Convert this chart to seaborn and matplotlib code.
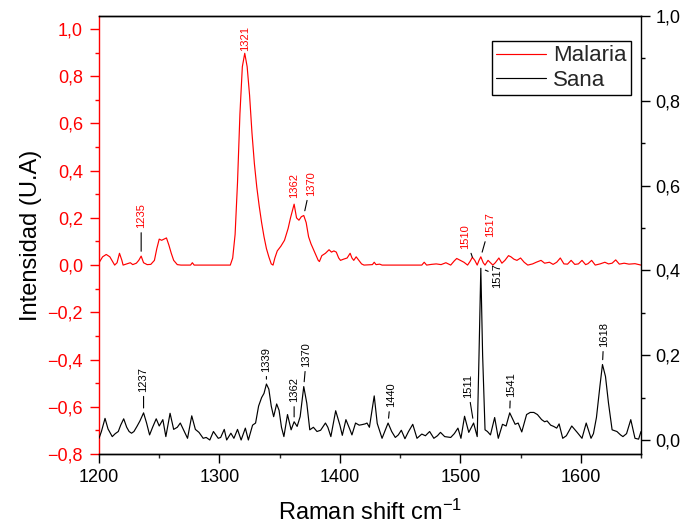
import matplotlib
matplotlib.use("Agg")
import matplotlib.pyplot as plt
from matplotlib.ticker import MultipleLocator, FuncFormatter
import seaborn as sns
import pandas as pd

# Raman spectra (shift in cm^-1, normalised intensity)
malaria_shift = [1200, 1203, 1206, 1209, 1213, 1215, 1217, 1219, 1220, 1223, 1226, 1228,
                 1231, 1233, 1235, 1237, 1240, 1243, 1246, 1248, 1250, 1252, 1254, 1256,
                 1258, 1260, 1262, 1265, 1268, 1276, 1277.5, 1279, 1309, 1311, 1313, 1315,
                 1317, 1319, 1321, 1323, 1325, 1327, 1329, 1331, 1333, 1335, 1337, 1339,
                 1341, 1343, 1344.5, 1346, 1348, 1351, 1354, 1357, 1359, 1362, 1364, 1366,
                 1368, 1370, 1372, 1374, 1376, 1379, 1382, 1383, 1385, 1388, 1391, 1393,
                 1395, 1397, 1399, 1400.5, 1403, 1406, 1408.5, 1410, 1411.5, 1413.5, 1415,
                 1418, 1420, 1427, 1428.5, 1430, 1433, 1435, 1468, 1470, 1472, 1476, 1480,
                 1484, 1488, 1492, 1495, 1497, 1500, 1503, 1506, 1508, 1510, 1512, 1514,
                 1515.5, 1517, 1519, 1520.5, 1523, 1525, 1527, 1529, 1532, 1534.5, 1537,
                 1540, 1542, 1544.5, 1547, 1550, 1553, 1556, 1560, 1563, 1567, 1570, 1574,
                 1577, 1580, 1583, 1586, 1589, 1592, 1595, 1598, 1601, 1604, 1606, 1609,
                 1612, 1616, 1620, 1623, 1626, 1629, 1632, 1636, 1640, 1645, 1650]
malaria_int = [0.010, 0.035, 0.045, 0.035, 0.000, 0.010, 0.050, 0.020, 0.000, 0.005, 0.010, 0.002,
               0.008, 0.020, 0.038, 0.010, 0.002, 0.003, 0.020, 0.070, 0.110, 0.105, 0.110, 0.115,
               0.085, 0.050, 0.020, 0.002, 0.000, 0.000, 0.010, 0.000, 0.000, 0.030, 0.130, 0.350,
               0.640, 0.840, 0.897, 0.840, 0.720, 0.560, 0.430, 0.330, 0.250, 0.180, 0.120, 0.070,
               0.035, 0.005, 0.000, 0.030, 0.060, 0.080, 0.105, 0.155, 0.200, 0.258, 0.200, 0.190,
               0.205, 0.210, 0.180, 0.120, 0.090, 0.055, 0.020, 0.015, 0.040, 0.050, 0.065, 0.055,
               0.060, 0.055, 0.030, 0.020, 0.025, 0.030, 0.050, 0.030, 0.020, 0.035, 0.025,
               0.005, 0.000, 0.002, 0.012, 0.002, 0.004, 0.000, 0.000, 0.012, 0.000, 0.003, 0.005,
               0.002, 0.010, 0.000, 0.018, 0.028, 0.020, 0.012, 0.000, 0.015, 0.033, 0.020, 0.000,
               0.020, 0.035, 0.010, 0.000, 0.020, 0.010, 0.000, 0.010, 0.030, 0.008, 0.020,
               0.040, 0.035, 0.025, 0.020, 0.030, 0.012, 0.000, 0.005, 0.012, 0.020, 0.008, 0.012,
               0.003, 0.012, 0.030, 0.005, 0.004, 0.020, 0.003, 0.005, 0.020, 0.002, 0.006, 0.020,
               0.000, 0.005, 0.012, 0.005, 0.008, 0.022, 0.004, 0.008, 0.004, 0.006, 0.000]

sana_shift = [1200, 1202, 1205, 1207.5, 1211, 1213.5, 1216, 1218, 1220.5, 1223, 1225, 1227,
              1229, 1231.5, 1234, 1237, 1239.5, 1242, 1244.5, 1247.5, 1250, 1253, 1255.5, 1259,
              1262, 1265, 1267.5, 1270, 1273.5, 1277, 1280, 1283, 1286.5, 1289, 1292, 1295,
              1299, 1301, 1304, 1306, 1309.5, 1312, 1315, 1318, 1321.5, 1324, 1327.5, 1330,
              1332.5, 1335, 1337, 1339, 1341, 1343, 1345, 1347.5, 1349.5, 1351.5, 1353.5, 1356.5,
              1359.5, 1362, 1364.5, 1367, 1370, 1372.5, 1375, 1378, 1381, 1384, 1388, 1390,
              1392.5, 1396.5, 1400, 1402, 1405, 1408, 1410, 1413, 1416, 1418, 1421, 1422.5,
              1424.5, 1428.5, 1431, 1435, 1440, 1443, 1446, 1448.5, 1451, 1454, 1457, 1460.5,
              1464, 1468, 1471, 1474.5, 1478, 1481, 1483.5, 1487, 1492, 1495, 1498, 1500.5,
              1503.5, 1507, 1511, 1514, 1515.5, 1517, 1518.5, 1520.5, 1522.5, 1525, 1528.5, 1531.5,
              1535, 1538, 1541, 1545.5, 1548, 1551, 1555, 1558, 1561, 1564, 1567.5, 1570,
              1572, 1575, 1577.5, 1580, 1582, 1585, 1588, 1592.5, 1597, 1601, 1604.5, 1608.5,
              1610.5, 1613, 1616, 1618, 1620.5, 1623, 1626, 1630, 1633, 1635, 1638, 1641.5,
              1645, 1648, 1650]
sana_int = [0.004, 0.020, 0.051, 0.026, 0.008, 0.015, 0.020, 0.035, 0.050, 0.030, 0.020, 0.016,
            0.020, 0.032, 0.045, 0.064, 0.040, 0.012, 0.030, 0.050, 0.033, 0.048, 0.008, 0.063,
            0.025, 0.030, 0.040, 0.025, 0.004, 0.057, 0.025, 0.018, 0.004, 0.006, 0.000, 0.020,
            0.004, 0.006, 0.025, 0.000, 0.016, 0.004, 0.025, 0.000, 0.028, 0.000, 0.035, 0.040,
            0.080, 0.100, 0.110, 0.132, 0.120, 0.080, 0.055, 0.085, 0.070, 0.030, 0.008, 0.060,
            0.024, 0.043, 0.032, 0.055, 0.126, 0.087, 0.024, 0.030, 0.020, 0.023, 0.040, 0.030,
            0.008, 0.069, 0.035, 0.011, 0.048, 0.027, 0.012, 0.040, 0.035, 0.036, 0.038, 0.040,
            0.030, 0.104, 0.039, 0.004, 0.040, 0.020, 0.006, 0.012, 0.023, 0.003, 0.020, 0.037,
            0.004, 0.014, 0.010, 0.020, 0.004, 0.010, 0.018, 0.008, 0.006, 0.015, 0.028, 0.004,
            0.056, 0.018, 0.040, 0.008, 0.200, 0.405, 0.200, 0.024, 0.020, 0.012, 0.053, 0.004,
            0.037, 0.033, 0.064, 0.037, 0.040, 0.019, 0.060, 0.065, 0.065, 0.060, 0.048, 0.043,
            0.045, 0.035, 0.032, 0.028, 0.038, 0.004, 0.010, 0.033, 0.018, 0.004, 0.040, 0.004,
            0.015, 0.053, 0.130, 0.178, 0.150, 0.087, 0.024, 0.020, 0.012, 0.008, 0.015, 0.048,
            0.004, 0.002, 0.020]

malaria_peaks = [1235, 1321, 1362, 1370, 1510, 1517]
sana_peaks = [1237, 1339, 1362, 1370, 1440, 1511, 1517, 1541, 1618]

series_names = ["Malaria", "Sana"]
x_ticks = [1200, 1300, 1400, 1500, 1600]

sns.set_theme(style="ticks")
plt.rcParams["font.family"] = ["Liberation Sans", "DejaVu Sans"]
plt.rcParams["mathtext.fontset"] = "custom"
plt.rcParams["mathtext.rm"] = "Liberation Sans"
plt.rcParams["mathtext.it"] = "Liberation Sans"
plt.rcParams["mathtext.default"] = "regular"

RED = "#ff0000"

fig = plt.figure(figsize=(6.88, 5.29), dpi=100)
ax = fig.add_axes([0.1439, 0.1418, 0.7878, 0.8280])
ax2 = ax.twinx()

mal = pd.DataFrame({"shift": malaria_shift, "intensity": malaria_int})
san = pd.DataFrame({"shift": sana_shift, "intensity": sana_int})

sns.lineplot(data=mal, x="shift", y="intensity", ax=ax, color=RED, lw=0.85,
             sort=False, estimator=None, label=series_names[0], legend=False)
sns.lineplot(data=san, x="shift", y="intensity", ax=ax2, color="black", lw=0.85,
             sort=False, estimator=None, label=series_names[1], legend=False)

ax.set_xlim(1200, 1650)
ax.set_ylim(-0.8, 1.055)
ax2.set_ylim(-0.033, 1.0)

comma = FuncFormatter(lambda v, p: f"{v:.1f}".replace(".", ",").replace("-", "\u2212"))

ax.set_xticks(x_ticks)
ax.xaxis.set_minor_locator(MultipleLocator(50))
ax.yaxis.set_major_locator(MultipleLocator(0.2))
ax.yaxis.set_minor_locator(MultipleLocator(0.1))
ax.yaxis.set_major_formatter(comma)
ax2.yaxis.set_major_locator(MultipleLocator(0.2))
ax2.yaxis.set_minor_locator(MultipleLocator(0.1))
ax2.yaxis.set_major_formatter(comma)

# axis styling: red left axis for Malaria, black right axis for Sana
for a in (ax, ax2):
    for s in a.spines.values():
        s.set_linewidth(1.0)
        s.set_color("black")
ax.spines["left"].set_color(RED)
ax.spines["right"].set_visible(False)
ax2.spines["left"].set_visible(False)

ax.tick_params(axis="x", which="major", direction="out", length=6.5, width=1.0,
               labelsize=13, pad=4, colors="black")
ax.tick_params(axis="x", which="minor", direction="out", length=3.2, width=1.0)
ax.tick_params(axis="y", which="major", direction="out", length=6.5, width=1.0,
               labelsize=13, pad=5, colors=RED)
ax.tick_params(axis="y", which="minor", direction="out", length=3.2, width=1.0, colors=RED)
ax2.tick_params(axis="y", which="major", direction="out", length=6.5, width=1.0,
                labelsize=13, pad=4, colors="black")
ax2.tick_params(axis="y", which="minor", direction="out", length=3.2, width=1.0, colors="black")

ax.set_xlabel("Raman shift cm$^{-1}$", fontsize=17, labelpad=10, color="black")
ax.set_ylabel("Intensidad (U.A)", fontsize=17, labelpad=4, color="black")
ax2.set_ylabel("")

# peak labels: (dx, dy) offsets in points, vertical alignment, leader line
mal_offsets = [(0, 20, "bottom", True), (0, 2, "bottom", False), (0, 4.5, "bottom", False),
               (5, 14, "bottom", True), (-5, 6, "bottom", True), (6.5, 14, "bottom", True)]
san_offsets = [(0, 15, "bottom", True), (0, 8.6, "bottom", True), (0, 14, "bottom", True),
               (2, 14, "bottom", True), (2, 11.3, "bottom", True), (-4.3, 18, "bottom", True),
               (12, -5, "center", True), (0.7, 11.7, "bottom", True), (1, 12.5, "bottom", True)]


def label_peaks(axis, xs, ys, peaks, offsets, color):
    for p, (dx, dy, va, lead) in zip(peaks, offsets):
        y = ys[xs.index(p)]
        arrow = None
        if lead:
            arrow = dict(arrowstyle="-", color="black", lw=0.8, shrinkA=0.8, shrinkB=3.5)
        axis.annotate(str(p), xy=(p, y), xytext=(dx, dy), textcoords="offset points",
                      rotation=90, ha="center", va=va, fontsize=8, color=color,
                      arrowprops=arrow)


label_peaks(ax, malaria_shift, malaria_int, malaria_peaks, mal_offsets, RED)
label_peaks(ax2, sana_shift, sana_int, sana_peaks, san_offsets, "black")

handles = ax.get_lines()[:1] + ax2.get_lines()[:1]
leg = ax2.legend(handles, series_names, loc="upper right", bbox_to_anchor=(0.9815, 0.943),
                 borderaxespad=0, fontsize=16, frameon=True, fancybox=False,
                 handlelength=2.25, handletextpad=0.3, borderpad=0.2, labelspacing=0.15)
leg.get_frame().set_edgecolor("black")
leg.get_frame().set_linewidth(1.0)
leg.get_frame().set_alpha(1)

fig.savefig("out.png", dpi=100)
